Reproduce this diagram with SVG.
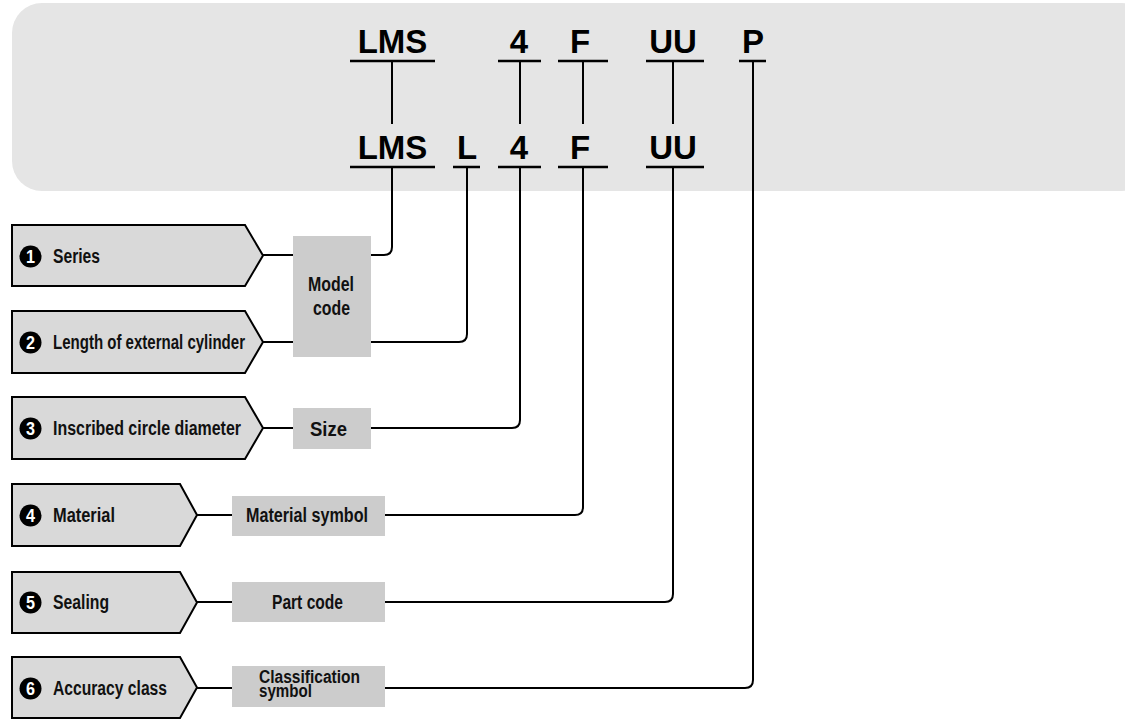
<svg xmlns="http://www.w3.org/2000/svg" width="1125" height="720" viewBox="0 0 1125 720">
<style>
.code{font-family:"Liberation Sans",Arial,sans-serif;font-weight:bold;font-size:33px;fill:#000;text-anchor:middle}
.ul{stroke:#000;stroke-width:2.5;fill:none}
.tag{fill:#d9d9d9;stroke:#000;stroke-width:2}
.box{fill:#cccccc}
.lbl{font-family:"Liberation Sans",Arial,sans-serif;font-weight:bold;font-size:20px;fill:#111}
.bl{font-family:"Liberation Sans",Arial,sans-serif;font-weight:bold;font-size:19.5px;fill:#111}
.num{font-family:"Liberation Sans",Arial,sans-serif;font-weight:bold;font-size:18px;fill:#fff;text-anchor:middle}
.con{stroke:#000;stroke-width:2;fill:none}
</style>
<rect x="12" y="3" width="1140" height="188" rx="30" fill="#e5e5e5"/>
<g id="codes">
<text class="code" x="392.5" y="53">LMS</text>
<text class="code" x="519" y="53">4</text>
<text class="code" x="580" y="53">F</text>
<text class="code" x="673" y="53">UU</text>
<text class="code" x="753" y="53">P</text>
<text class="code" x="392.5" y="159">LMS</text>
<text class="code" x="467" y="159">L</text>
<text class="code" x="519" y="159">4</text>
<text class="code" x="580" y="159">F</text>
<text class="code" x="673" y="159">UU</text>
<path class="ul" d="M350 61H435M498 61H541M558 61H608M646 61H704M739 61H766"/>
<path class="ul" d="M350 167H435M453 167H480M498 167H541M558 167H608M646 167H704"/>
</g>
<g id="n1"><path class="tag" d="M12 225H245L263 255.5L245 286H12Z"/><circle cx="30.5" cy="256.5" r="11"/><text class="num" x="30.5" y="263" textLength="9" lengthAdjust="spacingAndGlyphs">1</text><text class="lbl" x="53" y="263" textLength="47" lengthAdjust="spacingAndGlyphs">Series</text></g>
<g id="n2"><path class="tag" d="M12 311H245L263 342L245 373H12Z"/><circle cx="30.5" cy="342.5" r="11"/><text class="num" x="30.5" y="349" textLength="9" lengthAdjust="spacingAndGlyphs">2</text><text class="lbl" x="53" y="349" textLength="192" lengthAdjust="spacingAndGlyphs">Length of external cylinder</text></g>
<g id="n3"><path class="tag" d="M12 397H245L263 428L245 459H12Z"/><circle cx="30.5" cy="428.5" r="11"/><text class="num" x="30.5" y="435" textLength="9" lengthAdjust="spacingAndGlyphs">3</text><text class="lbl" x="53" y="435" textLength="188" lengthAdjust="spacingAndGlyphs">Inscribed circle diameter</text></g>
<g id="n4"><path class="tag" d="M12 484H180L197 515L180 546H12Z"/><circle cx="30.5" cy="515.5" r="11"/><text class="num" x="30.5" y="522" textLength="9" lengthAdjust="spacingAndGlyphs">4</text><text class="lbl" x="53" y="522" textLength="62" lengthAdjust="spacingAndGlyphs">Material</text></g>
<g id="n5"><path class="tag" d="M12 572H180L197 602.5L180 633H12Z"/><circle cx="30.5" cy="602.5" r="11"/><text class="num" x="30.5" y="609" textLength="9" lengthAdjust="spacingAndGlyphs">5</text><text class="lbl" x="53" y="609" textLength="56" lengthAdjust="spacingAndGlyphs">Sealing</text></g>
<g id="n6"><path class="tag" d="M12 657H180L197 687.5L180 718H12Z"/><circle cx="30.5" cy="688.5" r="11"/><text class="num" x="30.5" y="695" textLength="9" lengthAdjust="spacingAndGlyphs">6</text><text class="lbl" x="53" y="695" textLength="114" lengthAdjust="spacingAndGlyphs">Accuracy class</text></g>
<g id="modelcode"><rect class="box" x="293" y="236" width="78" height="121"/><text class="bl" x="308" y="291" textLength="46" lengthAdjust="spacingAndGlyphs">Model</text><text class="bl" x="313" y="315" textLength="37" lengthAdjust="spacingAndGlyphs">code</text></g>
<g id="size"><rect class="box" x="293" y="408" width="78" height="41"/><text class="bl" x="310" y="436" textLength="37" lengthAdjust="spacingAndGlyphs">Size</text></g>
<g id="material"><rect class="box" x="232" y="496" width="153" height="40"/><text class="bl" x="246" y="522" textLength="122" lengthAdjust="spacingAndGlyphs">Material symbol</text></g>
<g id="part"><rect class="box" x="232" y="582" width="153" height="40"/><text class="bl" x="272" y="609" textLength="71" lengthAdjust="spacingAndGlyphs">Part code</text></g>
<g id="class"><rect class="box" x="232" y="666" width="153" height="41"/><text class="bl" x="259" y="683" style="font-size:18px" textLength="101" lengthAdjust="spacingAndGlyphs">Classification</text><text class="bl" x="259" y="697" style="font-size:18px" textLength="53" lengthAdjust="spacingAndGlyphs">symbol</text></g>
<g id="connectors">
<path class="con" d="M392 61V124M520 61V124M583 61V124M673 61V124"/>
<path class="con" d="M263 255H293M371 255H384Q392 255 392 247V167"/>
<path class="con" d="M263 342H293M371 342H459Q467 342 467 334V167"/>
<path class="con" d="M263 428H293M371 428H512Q520 428 520 420V167"/>
<path class="con" d="M197 515H232M385 515H575Q583 515 583 507V167"/>
<path class="con" d="M197 602H232M385 602H665Q673 602 673 594V167"/>
<path class="con" d="M197 688H232M385 688H745Q753 688 753 680V61"/>
</g>
</svg>
